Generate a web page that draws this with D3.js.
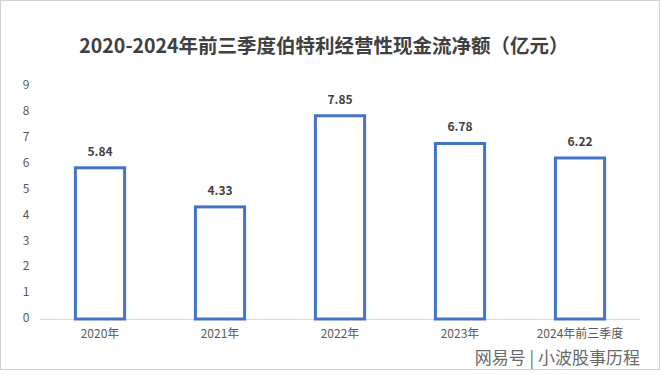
<!DOCTYPE html>
<html lang="zh">
<head>
  <meta charset="UTF-8" />
  <title>伯特利经营性现金流净额</title>
  <script src="https://cdn.jsdelivr.net/npm/d3@7/dist/d3.min.js"></script>
  <style>
    body { margin: 0; background: #fff; }
    text { font-family: "Noto Sans CJK SC", "Noto Sans", sans-serif; }
  </style>
</head>
<body>
  <svg width="660" height="381"></svg>
  <script>
    // 数据
    const categories = ['2020年', '2021年', '2022年', '2023年', '2024年前三季度'];
    const values = [5.84, 4.33, 7.85, 6.78, 6.22];
    const yTicks = [0, 1, 2, 3, 4, 5, 6, 7, 8, 9];

    const svg = d3.select('svg');

    // 外框
    svg.append('rect')
      .attr('x', 0.5).attr('y', 0.5)
      .attr('width', 659).attr('height', 369)
      .attr('fill', '#fff')
      .attr('stroke', '#d0d0d0');

    svg.append('text')
      .attr('x', 324).attr('y', 53)
      .attr('text-anchor', 'middle')
      .style('font-size', '19.5px')
      .style('font-weight', 'bold')
      .attr('fill', '#404040')
      .text('2020-2024年前三季度伯特利经营性现金流净额（亿元）');

    const x = d3.scaleBand().domain(categories).range([40, 640]).paddingInner(0.59).paddingOuter(0.295);
    const y = d3.scaleLinear().domain([0, 9]).range([319, 86]);

    // y 轴刻度文字
    svg.append('g')
      .selectAll('text')
      .data(yTicks)
      .enter()
      .append('text')
      .attr('x', 26)
      .attr('y', (d) => y(d))
      .attr('text-anchor', 'middle')
      .attr('dominant-baseline', 'middle')
      .style('font-size', '12px')
      .attr('fill', '#595959')
      .text((d) => d);

    // x 轴
    svg.append('line')
      .attr('x1', 40).attr('x2', 640)
      .attr('y1', y(0) + 0.5).attr('y2', y(0) + 0.5)
      .attr('stroke', '#d9d9d9');

    svg.append('g')
      .selectAll('text')
      .data(categories)
      .enter()
      .append('text')
      .attr('x', (d) => x(d) + x.bandwidth() / 2)
      .attr('y', 338)
      .attr('text-anchor', 'middle')
      .style('font-size', '12px')
      .attr('fill', '#595959')
      .text((d) => d);

    // 柱子
    svg.append('g')
      .selectAll('rect')
      .data(values)
      .enter()
      .append('rect')
      .attr('x', (d, i) => x(categories[i]))
      .attr('y', (d) => y(d))
      .attr('width', x.bandwidth())
      .attr('height', (d) => y(0) - y(d))
      .attr('fill', '#fff')
      .attr('stroke', '#4472c4')
      .attr('stroke-width', 3);

    svg.append('g')
      .selectAll('text')
      .data(values)
      .enter()
      .append('text')
      .attr('x', (d, i) => x(categories[i]) + x.bandwidth() / 2)
      .attr('y', (d) => y(d) - 12)
      .attr('text-anchor', 'middle')
      .style('font-size', '12px')
      .style('font-weight', 'bold')
      .attr('fill', '#404040')
      .text((d) => d.toFixed(2));

    // 水印
    svg.append('text')
      .attr('x', 640).attr('y', 364)
      .attr('text-anchor', 'end')
      .style('font-size', '17px')
      .attr('fill', '#6a6a6a')
      .text('网易号 | 小波股事历程');
  </script>
</body>
</html>
